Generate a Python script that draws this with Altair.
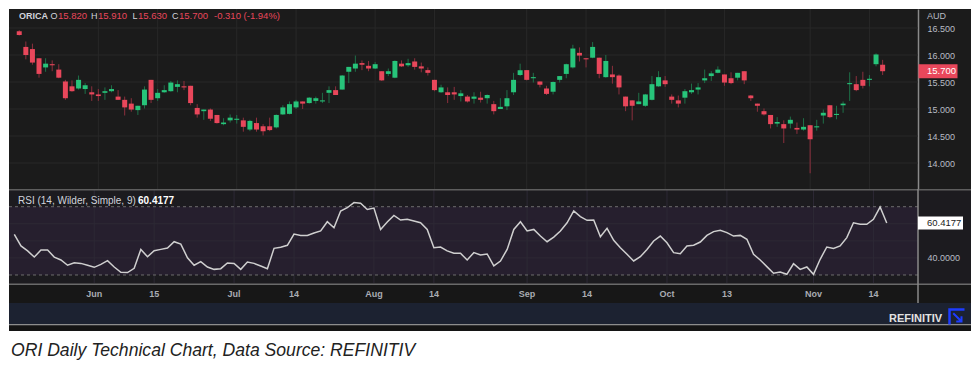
import altair as alt
import pandas as pd

# ---------------- data ----------------
opens = [16.44, 16.15, 16.11, 15.94, 15.77, 15.83, 15.73, 15.51, 15.42, 15.38,
         15.37, 15.31, 15.27, 15.30, 15.33, 15.23, 15.17, 15.10, 14.98, 15.07,
         15.54, 15.20, 15.31, 15.33, 15.41, 15.42, 15.43, 15.02, 14.96, 14.99,
         14.89, 14.72, 14.79, 14.80, 14.79, 14.62, 14.74, 14.68, 14.68, 14.66,
         14.90, 14.91, 15.03, 15.14, 15.11, 15.15, 15.14, 15.30, 15.35, 15.36,
         15.69, 15.75, 15.85, 15.80, 15.75, 15.70, 15.65, 15.58, 15.84, 15.81,
         15.88, 15.79, 15.72, 15.54, 15.31, 15.31, 15.31, 15.24, 15.23, 15.19,
         15.21, 15.20, 15.09, 15.00, 15.05, 15.31, 15.63, 15.72, 15.57, 15.51,
         15.38, 15.32, 15.54, 15.65, 15.77, 16.04, 15.94, 15.95, 15.95, 15.59,
         15.64, 15.62, 15.23, 15.16, 15.09, 15.06, 15.17, 15.42, 15.53, 15.23,
         15.16, 15.21, 15.31, 15.36, 15.53, 15.61, 15.67, 15.64, 15.57, 15.58,
         15.70, 15.25, 15.10, 14.96, 14.89, 14.73, 14.72, 14.73, 14.65, 14.62,
         14.70, 14.66, 14.88, 15.07, 14.89, 15.07, 15.46, 15.46, 15.54, 15.54,
         15.83, 15.82]
highs = [16.46, 16.25, 16.21, 15.94, 15.94, 15.90, 15.83, 15.54, 15.53, 15.62,
         15.48, 15.42, 15.37, 15.40, 15.44, 15.35, 15.23, 15.20, 15.06, 15.42,
         15.54, 15.37, 15.44, 15.52, 15.53, 15.52, 15.43, 15.09, 14.99, 15.01,
         14.89, 14.83, 14.90, 14.89, 14.84, 14.80, 14.84, 14.72, 14.84, 14.90,
         15.07, 15.14, 15.17, 15.14, 15.22, 15.23, 15.30, 15.42, 15.42, 15.63,
         15.78, 15.99, 15.90, 15.89, 15.87, 15.70, 15.75, 15.90, 15.90, 15.93,
         15.94, 15.86, 15.77, 15.54, 15.45, 15.40, 15.41, 15.35, 15.26, 15.31,
         15.32, 15.27, 15.15, 15.20, 15.35, 15.67, 15.84, 15.72, 15.67, 15.51,
         15.43, 15.51, 15.61, 15.84, 16.19, 16.14, 15.94, 16.24, 15.95, 16.00,
         15.80, 15.64, 15.23, 15.16, 15.30, 15.28, 15.61, 15.70, 15.61, 15.27,
         15.25, 15.37, 15.47, 15.48, 15.73, 15.70, 15.79, 15.64, 15.68, 15.67,
         15.70, 15.26, 15.10, 15.01, 14.89, 14.85, 14.79, 14.86, 14.75, 14.83,
         14.70, 14.80, 14.99, 15.07, 15.06, 15.14, 15.68, 15.61, 15.69, 15.63,
         16.03, 15.91]
lows = [16.36, 15.92, 15.82, 15.58, 15.69, 15.70, 15.57, 15.17, 15.32, 15.36,
        15.28, 15.15, 15.15, 15.17, 15.31, 15.17, 14.88, 14.95, 14.89, 15.01,
        15.11, 15.15, 15.30, 15.32, 15.31, 15.35, 15.07, 14.84, 14.80, 14.78,
        14.73, 14.70, 14.75, 14.73, 14.58, 14.59, 14.58, 14.51, 14.59, 14.64,
        14.89, 14.90, 15.00, 15.00, 15.10, 15.10, 15.11, 15.11, 15.26, 15.36,
        15.48, 15.69, 15.72, 15.70, 15.74, 15.52, 15.61, 15.57, 15.78, 15.78,
        15.73, 15.68, 15.62, 15.33, 15.30, 15.11, 15.17, 15.14, 15.12, 15.10,
        15.12, 15.10, 14.90, 15.00, 14.98, 15.26, 15.61, 15.53, 15.49, 15.40,
        15.26, 15.27, 15.49, 15.57, 15.75, 15.88, 15.77, 15.94, 15.57, 15.58,
        15.47, 15.27, 14.96, 14.79, 15.09, 15.04, 15.16, 15.41, 15.41, 15.10,
        15.03, 15.10, 15.28, 15.27, 15.48, 15.52, 15.66, 15.43, 15.46, 15.53,
        15.46, 15.15, 14.95, 14.88, 14.64, 14.67, 14.37, 14.64, 14.54, 14.60,
        13.81, 14.60, 14.73, 14.83, 14.81, 14.93, 15.15, 15.33, 15.38, 15.42,
        15.79, 15.63]
closes = [16.37, 16.00, 15.86, 15.65, 15.84, 15.81, 15.58, 15.20, 15.33, 15.54,
          15.44, 15.27, 15.24, 15.33, 15.37, 15.17, 15.03, 14.99, 15.06, 15.36,
          15.17, 15.30, 15.35, 15.49, 15.46, 15.40, 15.11, 14.90, 14.99, 14.82,
          14.74, 14.75, 14.84, 14.82, 14.67, 14.78, 14.62, 14.59, 14.61, 14.89,
          15.03, 15.09, 15.14, 15.10, 15.21, 15.20, 15.16, 15.35, 15.26, 15.62,
          15.78, 15.84, 15.82, 15.75, 15.83, 15.53, 15.70, 15.89, 15.79, 15.85,
          15.78, 15.75, 15.67, 15.35, 15.40, 15.26, 15.27, 15.29, 15.14, 15.23,
          15.17, 15.26, 14.96, 15.04, 15.20, 15.54, 15.72, 15.54, 15.59, 15.45,
          15.28, 15.50, 15.61, 15.83, 16.12, 15.99, 15.92, 16.15, 15.65, 15.89,
          15.59, 15.40, 15.05, 15.06, 15.14, 15.27, 15.46, 15.59, 15.46, 15.17,
          15.10, 15.33, 15.35, 15.40, 15.57, 15.66, 15.73, 15.49, 15.48, 15.67,
          15.53, 15.20, 15.06, 14.90, 14.72, 14.76, 14.64, 14.80, 14.62, 14.67,
          14.44, 14.68, 14.93, 14.85, 14.91, 15.10, 15.48, 15.35, 15.43, 15.56,
          16.01, 15.70]
rsi_vals = [53.8, 47.0, 44.1, 40.5, 44.6, 44.6, 40.5, 38.8, 35.7, 37.2,
            36.8, 35.7, 34.5, 36.2, 38.4, 34.7, 31.6, 31.4, 33.9, 45.0,
            40.7, 44.2, 45.0, 45.8, 49.5, 48.1, 40.1, 35.7, 37.8, 34.7,
            33.3, 33.7, 37.0, 36.8, 33.3, 37.6, 36.8, 35.3, 33.7, 45.6,
            46.2, 47.4, 54.0, 53.2, 53.2, 54.6, 55.8, 61.2, 57.7, 67.5,
            69.4, 72.4, 72.0, 68.4, 69.2, 56.7, 61.0, 64.9, 62.2, 62.6,
            61.6, 60.6, 56.7, 46.0, 46.4, 44.1, 42.7, 42.7, 38.8, 43.1,
            41.7, 42.3, 35.3, 38.2, 45.0, 56.7, 61.2, 55.8, 56.7, 52.8,
            49.5, 52.2, 55.8, 60.6, 67.5, 64.2, 62.0, 62.2, 52.4, 57.3,
            50.3, 46.0, 42.1, 38.2, 40.7, 45.0, 49.9, 52.8, 48.9, 43.1,
            42.5, 47.0, 47.4, 49.3, 53.2, 55.4, 56.2, 54.8, 52.8, 53.2,
            50.9, 42.1, 38.8, 34.9, 31.0, 31.8, 30.4, 36.6, 33.3, 34.7,
            30.4, 39.2, 46.4, 45.6, 47.0, 51.9, 60.6, 59.7, 59.7, 62.6,
            69.8, 60.4177]
tick_idx = [12, 21, 33, 42, 54, 63, 77, 86, 98, 107, 120, 129]
tick_lbl = ["Jun", "15", "Jul", "14", "Aug", "14", "Sep", "14", "Oct", "13", "Nov", "14"]
price_ticks = [14.0, 14.5, 15.0, 15.5, 16.0, 16.5]
rsi_grid = [40, 50, 60]
rsi_levels = [30, 70]
rsi_axis_vals = [40]

# ---------------- tables ----------------
N = len(opens)
candles = pd.DataFrame({"i": list(range(N)), "o": opens, "h": highs, "l": lows, "c": closes})
rsi_df = pd.DataFrame({"i": list(range(N)), "rsi": rsi_vals})
ticks_df = pd.DataFrame({"i": tick_idx, "label": tick_lbl})
ptick_df = pd.DataFrame({"p": price_ticks})
one = pd.DataFrame({"k": [0]})

last_o, last_h, last_l, last_c = opens[-1], highs[-1], lows[-1], closes[-1]
chg = last_c - closes[-2]
pct = chg / closes[-2] * 100
last_rsi = rsi_vals[-1]

# ---------------- style ----------------
FONT = "Liberation Sans"
W = 962
PH = 180
RH = 142
CH = 31
AX = 909
BG = "#1b1b1b"
GRID = "#282828"
RSI_BG = "#1c1b1f"
BAND = "#261f2e"
DATEBG = "#171717"
NAVY = "#1c2231"
SEP = "#8a8a8a"
AXT = "#b8bcc4"
UP = "#27c47a"
DN = "#e9475b"
UPW = "#1e7048"
DNW = "#8c2f3d"

xs = alt.Scale(domain=[-0.796, 143.65], nice=False, zero=False)
ps = alt.Scale(domain=[13.519, 16.852], nice=False, zero=False)
rs = alt.Scale(domain=[-2.80, 80.37], nice=False, zero=False)
X = alt.X("i:Q", scale=xs, axis=None)

price_axis = alt.Axis(orient="right", offset=-(W - AX), values=price_ticks, format=".3f",
                      labelColor=AXT, labelFont=FONT, labelFontSize=9, labelPadding=9,
                      ticks=False, tickSize=0, domain=True, domainColor=SEP,
                      domainWidth=1.5, grid=False, title=None, labelAlign="left")
rsi_axis = alt.Axis(orient="right", offset=-(W - AX), values=rsi_axis_vals, format=".4f",
                    labelColor=AXT, labelFont=FONT, labelFontSize=9, labelPadding=9,
                    ticks=False, tickSize=0, domain=False, grid=False, title=None,
                    labelAlign="left")


def YP(f):
    return alt.Y(f, scale=ps, axis=price_axis)


def YR(f):
    return alt.Y(f, scale=rs, axis=rsi_axis)


def label(txt, x, y, color, size=10, weight="normal", align="left",
          baseline="middle", font=FONT, style="normal"):
    return alt.Chart(one).mark_text(
        text=txt, align=align, baseline=baseline, font=font, fontSize=size,
        fontWeight=weight, fontStyle=style, color=color
    ).encode(x=alt.value(x), y=alt.value(y))


def hbar(y1, y2, color, x1=0, x2=W):
    return alt.Chart(one).mark_rect(color=color).encode(
        x=alt.value(x1), x2=alt.value(x2), y=alt.value(y1), y2=alt.value(y2))


# ---------------- price panel ----------------
hgrid = alt.Chart(ptick_df).mark_rule(color=GRID).encode(
    y=YP("p:Q"), x=alt.value(0), x2=alt.value(AX))
vgrid = alt.Chart(ticks_df).mark_rule(color=GRID).encode(
    x=X, y=alt.value(0), y2=alt.value(PH))
updown = alt.condition("datum.c >= datum.o", alt.value(UP), alt.value(DN))
updown_w = alt.condition("datum.c >= datum.o", alt.value(UPW), alt.value(DNW))
wicks = alt.Chart(candles).mark_rule(strokeWidth=1).encode(
    x=X, y=YP("l:Q"), y2="h:Q", color=updown_w)
bodies = alt.Chart(candles).mark_bar(width=5).encode(
    x=X, y=YP("o:Q"), y2="c:Q", color=updown)

lp = alt.Chart(pd.DataFrame({"v": [last_c]}))
lp_box = lp.mark_point(shape="M-1,-0.359L1,-0.359L1,0.359L-1,0.359Z", size=1521,
                       filled=True, color=DN, opacity=1, strokeWidth=0).encode(
    x=alt.value(929), y=YP("v:Q"))
lp_txt = lp.mark_text(align="left", baseline="middle", font=FONT, fontSize=9.5,
                      color="white").encode(
    x=alt.value(918), y=YP("v:Q"), text=alt.Text("v:Q", format=".3f"))

HY = 7
HC = "#d1d4dc"
header = [
    label("ORICA", 10, HY, HC, size=9, weight="bold"),
    label("O", 48.5, HY, HC, size=9, align="right"), label(f"{last_o:.3f}", 49, HY, DN, size=9.5),
    label("H", 88.5, HY, HC, size=9, align="right"), label(f"{last_h:.3f}", 89, HY, DN, size=9.5),
    label("L", 128.5, HY, HC, size=9, align="right"), label(f"{last_l:.3f}", 129, HY, DN, size=9.5),
    label("C", 169.5, HY, HC, size=9, align="right"), label(f"{last_c:.3f}", 170, HY, DN, size=9.5),
    label(f"{chg:.3f} ({pct:.2f}%)", 205, HY, DN, size=9.5),
    label("AUD", 918, HY, AXT, size=9),
]

price = alt.layer(hgrid, vgrid, wicks, bodies, lp_box, lp_txt, *header).properties(
    width=W, height=PH, view=alt.ViewBackground(fill=BG, stroke=None))

# ---------------- RSI panel ----------------
band = alt.Chart(pd.DataFrame({"lo": [min(rsi_levels)], "hi": [max(rsi_levels)]})).mark_rect(
    color=BAND).encode(y=YR("lo:Q"), y2="hi:Q", x=alt.value(0), x2=alt.value(AX))
rgrid = alt.Chart(pd.DataFrame({"g": rsi_grid})).mark_rule(color="#2d2935").encode(
    y=YR("g:Q"), x=alt.value(0), x2=alt.value(AX))
rvgrid = alt.Chart(ticks_df).mark_rule(color="#2d2935").encode(
    x=X, y=alt.value(0), y2=alt.value(94))
dashed = alt.Chart(pd.DataFrame({"g": rsi_levels})).mark_rule(
    color="#6e6e6e", strokeDash=[3, 3]).encode(
    y=YR("g:Q"), x=alt.value(0), x2=alt.value(AX))
rline = alt.Chart(rsi_df).mark_line(color="#cfcfcf", strokeWidth=1.5).encode(
    x=X, y=YR("rsi:Q"))

date_band = hbar(95, 114, DATEBG)
date_line = hbar(94.5, 96, "#6a6a6a")
date_lbls = alt.Chart(ticks_df).mark_text(
    font=FONT, fontSize=9, fontWeight="bold", color="#a9acb3", baseline="middle").encode(
    x=X, y=alt.value(105), text="label:N")
navy = hbar(114, 135, NAVY)
light_line = hbar(135, 136.5, "#8d8d8d")
black = hbar(136.5, 142, "#141414")
top_sep = hbar(0, 1.5, "#5e5e5e")
vsep = alt.Chart(one).mark_rule(color=SEP, strokeWidth=1.5).encode(
    x=alt.value(AX), y=alt.value(0), y2=alt.value(114))

rv = alt.Chart(pd.DataFrame({"v": [last_rsi]}))
rv_box = rv.mark_point(shape="M-1,-0.289L1,-0.289L1,0.289L-1,0.289Z", size=2025,
                       filled=True, color="white", opacity=1, strokeWidth=0).encode(
    x=alt.value(931.5), y=YR("v:Q"))
rv_txt = rv.mark_text(align="left", baseline="middle", font=FONT, fontSize=9.5,
                      color="#1b1b1b").encode(
    x=alt.value(918), y=YR("v:Q"), text=alt.Text("v:Q", format=".4f"))

rsi_head = [
    label("RSI (14, Wilder, Simple, 9)", 9, 12, HC),
    label(f"{last_rsi:.4f}", 129, 12, "#ffffff", weight="bold"),
]
brand = [
    label("REFINITIV", 880, 129.5, "#e2e2e2", size=11, weight="bold"),
    alt.Chart(one).mark_point(shape="M-1,1L-1,-1L1,-1", size=225, filled=False,
                              color="#1d3cff", strokeWidth=2.5, opacity=1).encode(
        x=alt.value(948), y=alt.value(128)),
    alt.Chart(one).mark_point(shape="M-0.5,-0.5L0.6,0.6M0.6,-0.1L0.6,0.6L-0.1,0.6", size=225,
                              filled=False, color="#1d3cff", strokeWidth=2, opacity=1).encode(
        x=alt.value(948), y=alt.value(128)),
]

rsi_panel = alt.layer(
    band, rgrid, rvgrid, dashed, rline, date_band, date_line, date_lbls, navy,
    light_line, black, top_sep, vsep, rv_box, rv_txt, *rsi_head, *brand
).properties(width=W, height=RH, view=alt.ViewBackground(fill=RSI_BG, stroke=None))

# ---------------- caption ----------------
cap = label("ORI Daily Technical Chart, Data Source: REFINITIV", 2, 20, "#222222",
            size=17.6, font="Liberation Sans", style="italic").properties(
    width=W, height=CH, view=alt.ViewBackground(fill="white", stroke=None))

chart = alt.vconcat(price, rsi_panel, cap, spacing=0, bounds="flush").properties(
    padding=0, background="white").configure_view(stroke=None)

chart.save("out.html", embed_options={"renderer": "svg", "actions": False})
